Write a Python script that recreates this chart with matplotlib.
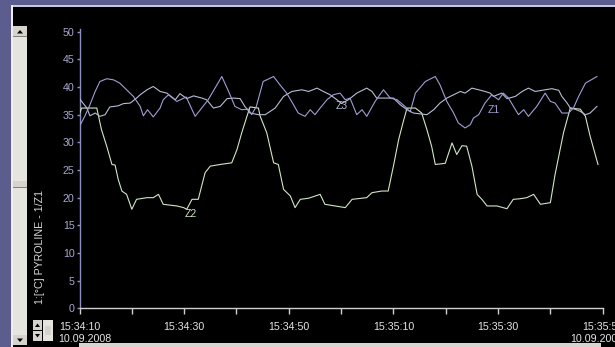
import matplotlib
matplotlib.use("Agg")
import matplotlib.pyplot as plt
from matplotlib.patches import Rectangle, Polygon

plt.rcParams['font.family'] = ['Liberation Sans', 'DejaVu Sans']

# ---------------- data (seconds after 15:34:10, temperature in °C) ----------------
z2_t = [0, 0.4, 3.3, 4.2, 5.2, 6.2, 6.8, 7.4, 8.1, 9.0, 10.0, 10.9, 12.9, 14.1, 15.1,
        16.0, 18.6, 19.9, 20.5, 21.5, 22.7, 24.0, 25.0, 26.9, 29.1, 30.1, 31.0, 32.0,
        32.6, 34.2, 34.5, 35.8, 37.1, 38.0, 39.0, 40.3, 41.2, 42.2, 43.8, 46.0, 46.9,
        50.8, 52.1, 54.9, 55.9, 57.8, 59.0, 60.0, 61.0, 61.9, 62.6, 64.2, 65.4, 66.4,
        67.3, 68.0, 69.9, 71.2, 72.1, 73.1, 74.0, 75.0, 76.0, 76.9, 77.9, 79.8, 81.7,
        82.9, 84.2, 85.5, 86.8, 88.1, 90.0, 90.9, 92.5, 93.8, 95.7, 96.7, 97.6, 99.1]
z2_v = [35.2, 36.2, 36.2, 32.3, 29.3, 26.0, 25.9, 23.3, 21.2, 20.6, 17.9, 19.7, 20.0,
        20.0, 20.6, 18.8, 18.5, 18.2, 17.9, 19.7, 19.7, 24.5, 25.7, 26.0, 26.3, 28.7,
        31.7, 34.7, 36.4, 36.2, 34.8, 31.7, 26.3, 26.0, 21.5, 20.3, 18.2, 19.7, 19.9,
        20.6, 18.8, 18.2, 19.7, 20.0, 20.9, 21.2, 21.2, 25.7, 30.5, 33.8, 36.2, 36.2,
        35.3, 32.3, 29.3, 26.0, 26.2, 29.9, 27.8, 29.4, 29.3, 25.7, 20.6, 19.7, 18.5,
        18.5, 18.0, 19.7, 19.8, 20.0, 20.6, 18.8, 19.1, 24.2, 31.7, 36.2, 36.0, 34.7,
        31.1, 26.0]

z1_t = [0, 1.0, 2.0, 3.0, 3.9, 5.2, 6.5, 7.7, 9.0, 10.3, 11.6, 12.2, 13.0, 14.1, 15.4,
        16.0, 17.0, 18.6, 20.4, 22.1, 24.6, 27.2, 28.5, 29.7, 31.0, 32.3, 32.9, 33.8,
        35.1, 37.1, 38.3, 39.6, 40.9, 41.8, 43.1, 44.1, 45.0, 46.0, 47.3, 48.5, 49.8,
        50.8, 51.7, 53.0, 54.0, 54.9, 56.5, 58.1, 59.4, 60.7, 62.2, 63.2, 64.2, 66.1,
        68.0, 68.9, 70.2, 71.5, 72.4, 73.7, 74.7, 75.3, 76.3, 77.5, 78.8, 80.1, 81.0,
        82.0, 83.9, 84.9, 85.8, 87.4, 89.0, 90.0, 90.9, 92.2, 93.5, 94.4, 95.4, 96.7,
        98.9]
z1_v = [32.9, 34.7, 36.8, 39.2, 41.0, 41.5, 41.3, 40.7, 39.5, 38.3, 36.5, 34.8, 35.9,
        34.6, 36.2, 37.7, 38.6, 37.4, 38.2, 34.7, 37.7, 41.9, 39.2, 36.5, 35.9, 36.0,
        35.0, 36.5, 41.0, 41.9, 40.4, 38.9, 36.8, 35.3, 34.7, 35.9, 35.0, 36.2, 37.7,
        38.6, 38.9, 37.7, 38.0, 35.0, 35.9, 34.7, 37.4, 39.5, 38.0, 37.7, 36.5, 35.5,
        38.9, 41.0, 41.9, 40.4, 37.4, 35.3, 33.5, 32.6, 33.2, 34.4, 35.0, 37.1, 38.6,
        37.7, 38.9, 38.0, 35.0, 35.9, 34.7, 36.5, 38.9, 37.4, 37.1, 35.3, 35.3, 36.2,
        38.3, 40.7, 41.9]

z3_t = [0, 1.4, 2.0, 3.0, 3.9, 4.9, 5.8, 7.4, 8.4, 9.7, 10.9, 11.6, 12.9, 14.1, 15.4,
        16.7, 18.3, 19.2, 20.5, 21.8, 23.4, 24.3, 25.6, 26.9, 28.2, 29.4, 30.7, 31.6,
        32.6, 34.2, 35.5, 37.4, 39.0, 40.6, 42.5, 43.8, 45.4, 46.6, 47.9, 49.2, 50.1,
        51.4, 53.0, 54.9, 55.9, 56.8, 58.4, 60.0, 61.3, 62.6, 63.8, 66.4, 67.7, 68.9,
        70.2, 71.5, 72.8, 73.7, 75.0, 76.3, 77.5, 78.5, 79.1, 80.7, 81.7, 83.3, 84.6,
        85.8, 87.1, 89.0, 90.3, 91.6, 92.2, 93.2, 93.8, 94.7, 95.7, 96.7, 97.6, 98.9]
z3_v = [37.9, 36.2, 34.8, 35.3, 34.7, 35.0, 36.4, 36.6, 37.0, 37.1, 38.0, 38.6, 39.5,
        40.1, 39.2, 38.9, 37.7, 38.8, 37.9, 38.4, 38.0, 37.7, 36.2, 36.5, 37.9, 38.0,
        37.9, 36.5, 35.3, 35.0, 35.0, 36.2, 38.3, 39.2, 39.5, 39.2, 39.8, 39.2, 38.6,
        37.7, 37.0, 37.7, 38.9, 39.8, 39.2, 38.0, 38.0, 38.0, 36.8, 35.9, 35.3, 35.0,
        35.9, 37.1, 38.0, 38.6, 39.2, 38.9, 39.8, 39.5, 39.2, 38.9, 38.3, 38.9, 37.9,
        38.3, 39.2, 39.8, 39.2, 39.5, 39.7, 39.4, 38.3, 37.1, 36.2, 36.0, 35.6, 35.0,
        35.3, 36.5]

series_names = ["Z1", "Z2", "Z3"]
label_pos = {"Z1": (79.1, 35.9), "Z2": (21.3, 17.0), "Z3": (50.2, 36.6)}

x_major = [0, 20, 40, 60, 80, 100]
x_minor = [10, 30, 50, 70, 90]
x_tick_labels = ["15:34:10", "15:34:30", "15:34:50", "15:35:10", "15:35:30", "15:35:50"]
date_label = "10.09.2008"
y_ticks = [0, 5, 10, 15, 20, 25, 30, 35, 40, 45, 50]
y_label = "1:[°C] PYROLINE - 1/Z1"

# ---------------- colours ----------------
C_Z1 = "#a09ed4"
C_Z2 = "#cfe6c4"
C_Z3 = "#b6bed6"
PURPLE = "#5c5c8e"
GRAYBTN = "#d6d3cc"
TRACK = "#e6e4de"

W, H = 615, 347
fig = plt.figure(figsize=(W / 100, H / 100), dpi=100, facecolor="black")


def fx(px):
    return px / W


def fy(py):
    return 1 - py / H


def rect(x0, y0, x1, y1, color, z=0):
    fig.patches.append(Rectangle((fx(x0), fy(y1)), (x1 - x0) / W, (y1 - y0) / H,
                                 transform=fig.transFigure, facecolor=color,
                                 edgecolor="none", zorder=z))


def tri(pts, color="black"):
    fig.patches.append(Polygon([(fx(a), fy(b)) for a, b in pts], closed=True,
                               transform=fig.transFigure, facecolor=color,
                               edgecolor="none", zorder=3))


# window frame
rect(0, 0, W, 5, PURPLE)
rect(0, 0, 10.5, H, PURPLE)
rect(10.5, 5, W, 7, "#c2cae0")
rect(10.5, 5, 13, H, "#eeeeee")

# left vertical scrollbar
rect(13, 37, 27, 335, TRACK)
rect(13, 26, 27, 37, GRAYBTN, 1)
rect(13, 36, 27, 37, "#808080", 2)
tri([(17, 33.5), (23, 33.5), (20, 30)])
rect(13, 181, 27, 188, GRAYBTN, 1)
rect(13, 187, 27, 188, "#808080", 2)
rect(13, 335, 27, 345, GRAYBTN, 1)
tri([(17, 338.5), (23, 338.5), (20, 342)])

# small bottom-left controls
rect(33, 320, 42, 330, GRAYBTN, 1)
tri([(35, 327), (40, 327), (37.5, 323.5)])
rect(33, 331, 42, 341, GRAYBTN, 1)
tri([(35, 334), (40, 334), (37.5, 337.5)])
rect(43, 320, 53, 341, TRACK, 1)
rect(45, 326, 51, 335, GRAYBTN, 2)

# bottom horizontal bar
rect(79, 343, 601, H, "#d8d5ce")

# ---------------- axes ----------------
y_top_px = 31.7 - 0.5 * 5.53
ax = fig.add_axes([fx(79.5), fy(308.3), 523.2 / W, (308.3 - y_top_px) / H])
ax.set_facecolor("none")
ax.set_xlim(0, 100)
ax.set_ylim(0, 50.5)

ax.plot(z2_t, z2_v, color=C_Z2, lw=0.8, zorder=3)
ax.plot(z3_t, z3_v, color=C_Z3, lw=0.8, zorder=3)
ax.plot(z1_t, z1_v, color=C_Z1, lw=0.8, zorder=4)

label_colors = {"Z1": C_Z1, "Z2": C_Z2, "Z3": C_Z3}
for name in series_names:
    tx, ty = label_pos[name]
    ax.text(tx, ty, name, color=label_colors[name], fontsize=7.5,
            ha="center", va="center", zorder=5)

for s in ("top", "right"):
    ax.spines[s].set_visible(False)
ax.spines["left"].set_color("#8e8ec0")
ax.spines["bottom"].set_color("#cfcfcf")
ax.spines["left"].set_linewidth(1.0)
ax.spines["bottom"].set_linewidth(1.0)

ax.set_yticks(y_ticks)
ax.set_yticklabels([str(v) for v in y_ticks])
ax.tick_params(axis="y", direction="out", length=2.5, width=1.0, color="#8e8ec0",
               labelcolor="#a9a9d2", labelsize=7.7, pad=1)

ax.set_xticks(x_major)
ax.set_xticks(x_minor, minor=True)
ax.set_xticklabels(x_tick_labels)
ax.tick_params(axis="x", which="both", direction="out", length=4, width=1.0,
               color="#cfcfcf")
ax.tick_params(axis="x", which="major", labelcolor="#e4e4e4", labelsize=7.7, pad=6)

# date lines under first and last time labels
fig.text(fx(58.3), fy(333.5), date_label, color="#e4e4e4", fontsize=7.7,
         ha="left", va="top")
fig.text(fx(570.7), fy(334.5), date_label, color="#e4e4e4", fontsize=7.7,
         ha="left", va="top")

# y axis label
fig.text(fx(40), fy(247), y_label, color="#d8d8d8", fontsize=7.7,
         rotation=90, ha="center", va="center")

fig.savefig("out.png", dpi=100, facecolor=fig.get_facecolor())
